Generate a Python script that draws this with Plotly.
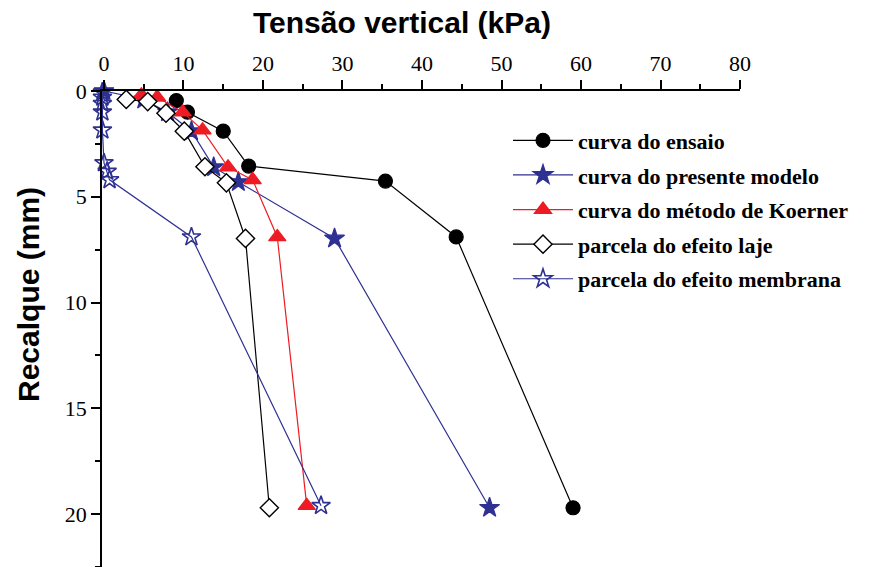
import plotly.graph_objects as go

# Data (x = Tensão vertical kPa, y = Recalque mm)
ensaio_x = [9.1, 10.5, 15.0, 18.2, 35.4, 44.3, 59.0]
ensaio_y = [0.45, 1.0, 1.9, 3.55, 4.26, 6.9, 19.7]

modelo_x = [0.0, 5.0, 8.0, 11.0, 13.8, 16.9, 29.0, 48.5]
modelo_y = [0.0, 0.4, 1.0, 1.9, 3.6, 4.3, 6.97, 19.7]

koerner_x = [4.7, 6.7, 9.9, 12.4, 15.6, 18.7, 21.8, 25.5]
koerner_y = [0.2, 0.3, 1.0, 1.85, 3.6, 4.2, 6.9, 19.6]

laje_x = [2.8, 5.5, 7.8, 10.1, 12.7, 15.4, 17.8, 20.8]
laje_y = [0.4, 0.5, 1.05, 1.9, 3.58, 4.34, 6.97, 19.7]

membrana_x = [-0.2, -0.2, -0.2, -0.2, -0.2, 0.0, 0.4, 0.7, 11.0, 27.3]
membrana_y = [0.05, 0.3, 0.6, 1.0, 1.85, 3.4, 3.8, 4.2, 6.9, 19.6]

names = ["curva do ensaio", "curva do presente modelo", "curva do método de Koerner",
         "parcela do efeito laje", "parcela do efeito membrana"]

BLACK = "#000000"
BLUE = "#2E3192"
RED = "#ED1C24"

fig = go.Figure()

def add(x, y, name, color, symbol, size, mfill, mline=1.2):
    fig.add_trace(go.Scatter(
        x=x, y=y, mode="lines+markers", name=name, legendgroup=name,
        line=dict(color=color, width=1.2),
        marker=dict(symbol=symbol, size=size, color=mfill,
                    line=dict(color=color, width=mline)),
        cliponaxis=False,
    ))

add(ensaio_x, ensaio_y, names[0], BLACK, "circle", 14, BLACK)
add(modelo_x, modelo_y, names[1], BLUE, "star", 15, BLUE)
add(koerner_x, koerner_y, names[2], RED, "triangle-up", 15, RED)
add(laje_x, laje_y, names[3], BLACK, "diamond", 14, "white", 1.4)
add(membrana_x, membrana_y, names[4], BLUE, "star-open", 14, BLUE, 1.6)

L, R = 102, 136
W = 876 - L - R

fig.update_layout(
    width=876, height=567,
    margin=dict(l=L, r=R, t=91, b=0),
    plot_bgcolor="white", paper_bgcolor="white",
    showlegend=True,
    legend=dict(
        x=(508 - L) / W, y=0.94, xanchor="left", yanchor="top",
        font=dict(family="Liberation Serif", size=22, color="black", weight="bold"),
        bgcolor="rgba(0,0,0,0)", tracegroupgap=3,
        itemwidth=60,
    ),
    font=dict(family="Liberation Serif", color="black"),
    annotations=[
        dict(text="Tensão vertical (kPa)", xref="paper", yref="paper",
             x=(402 - L) / W, y=1 + (91 - 22) / 476, xanchor="center", yanchor="middle",
             showarrow=False,
             font=dict(family="Liberation Sans", size=30, color="black", weight="bold")),
        dict(text="Recalque (mm)", xref="paper", yref="paper",
             x=-(L - 28) / W, y=1 - (295 - 91) / 476, xanchor="center", yanchor="middle",
             textangle=-90, showarrow=False,
             font=dict(family="Liberation Sans", size=30, color="black", weight="bold")),
    ],
)

fig.update_xaxes(
    side="top", range=[-0.25, 80], tickvals=list(range(0, 81, 10)),
    ticks="outside", ticklen=9, tickwidth=1.5, tickcolor="black",
    minor=dict(dtick=5, ticks="outside", ticklen=5, tickwidth=1.5, tickcolor="black"),
    showline=True, linecolor="black", linewidth=1.8, showgrid=False, zeroline=False,
    tickfont=dict(family="Liberation Serif", size=22, color="black"),
)

fig.update_yaxes(
    range=[22.5, 0], tickvals=[0, 5, 10, 15, 20],
    ticks="outside", ticklen=9, tickwidth=1.5, tickcolor="black",
    minor=dict(dtick=2.5, ticks="outside", ticklen=5, tickwidth=1.5, tickcolor="black"),
    showline=True, linecolor="black", linewidth=1.8, showgrid=False, zeroline=False,
    tickfont=dict(family="Liberation Serif", size=22, color="black"),
)

fig.write_html("out.html")
